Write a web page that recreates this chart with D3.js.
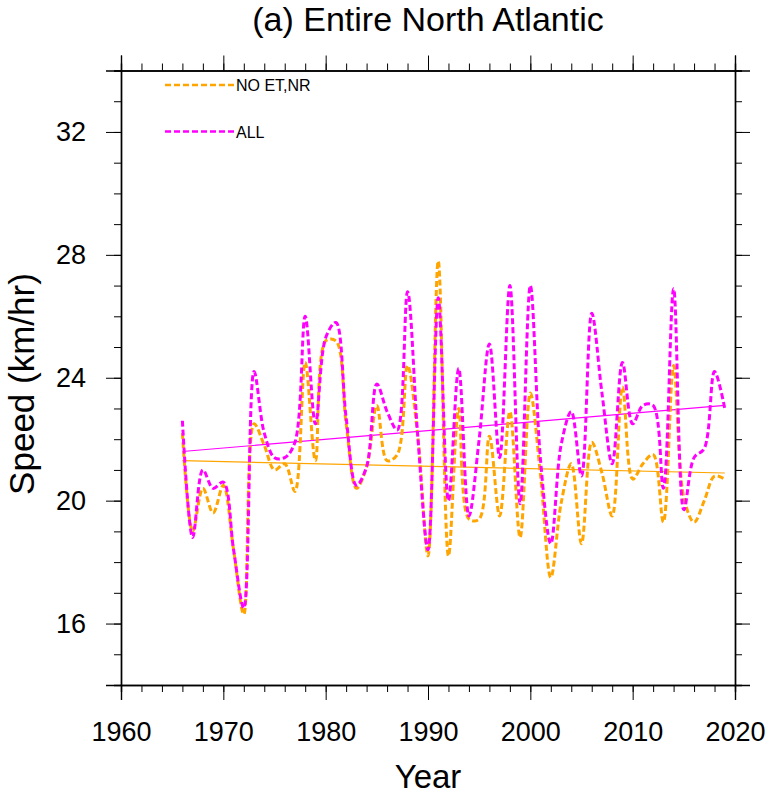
<!DOCTYPE html>
<html>
<head>
<meta charset="utf-8">
<script src="https://cdn.jsdelivr.net/npm/d3@7"></script>
<style>
  body { margin: 0; background: #fff; }
  text { font-family: "Liberation Sans", Arial, Helvetica, sans-serif; fill: #000; }
</style>
</head>
<body>
<div id="chart"></div>
<script>
const years = [1966, 1967, 1968, 1969, 1970, 1971, 1972, 1973, 1974, 1975,
  1976, 1977, 1978, 1979, 1980, 1981, 1982, 1983, 1984, 1985,
  1986, 1987, 1988, 1989, 1990, 1991, 1992, 1993, 1994, 1995,
  1996, 1997, 1998, 1999, 2000, 2001, 2002, 2003, 2004, 2005,
  2006, 2007, 2008, 2009, 2010, 2011, 2012, 2013, 2014, 2015,
  2016, 2017, 2018, 2019]

// speed of storms excluding extratropical / non-recurving points
const noEtNr = [22.2, 19.0, 20.4, 19.6, 20.5, 18.4, 16.3, 22.5, 21.8, 21.0,
  21.2, 20.3, 24.5, 21.3, 25.2, 25.2, 22.5, 20.4, 21.1, 23.1,
  21.3, 21.5, 24.4, 22.1, 18.2, 27.8, 18.2, 23.0, 19.4, 19.4,
  22.1, 19.5, 22.9, 18.8, 23.5, 20.8, 17.5, 19.9, 21.2, 18.6,
  21.9, 20.9, 19.5, 23.7, 20.7, 21.2, 21.5, 19.3, 24.4, 20.1,
  19.3, 20.0, 20.8, 20.7]

const all = [22.6, 18.8, 21.0, 20.4, 20.6, 18.4, 16.5, 24.2, 22.2, 21.4,
  21.4, 21.9, 26.0, 22.5, 25.3, 25.8, 22.7, 20.5, 21.1, 23.8,
  22.9, 22.3, 26.8, 22.1, 18.4, 26.6, 20.0, 24.3, 19.5, 22.0,
  25.1, 21.4, 27.0, 19.9, 27.0, 21.3, 18.6, 21.8, 22.9, 20.8,
  26.1, 23.5, 21.2, 24.5, 22.5, 23.1, 23.1, 20.4, 26.9, 19.7,
  21.4, 21.7, 24.2, 23.0]

// linear trend end values (1966, 2019)
const trendYears = [1966, 2019]
const trendNoEtNr = [21.3, 20.9]
const trendAll = [21.6, 23.1]

const xTicks = [1960, 1970, 1980, 1990, 2000, 2010, 2020]
const yTicks = [16, 20, 24, 28, 32]

const width = 766, height = 794
const margin = { top: 70.5, right: 31, bottom: 109, left: 121 }

const svg = d3.select("#chart").append("svg")
  .attr("width", width)
  .attr("height", height)

const x = d3.scaleLinear().domain([1960, 2020]).range([margin.left, width - margin.right])
const y = d3.scaleLinear().domain([14, 34]).range([height - margin.bottom, margin.top])

const series = [
  { name: "NO ET,NR", values: noEtNr, trend: trendNoEtNr, color: "#ffa500" },
  { name: "ALL", values: all, trend: trendAll, color: "#ff00ff" }
]

const line = d3.line()
  .x(d => x(d[0]))
  .y(d => y(d[1]))
  .curve(d3.curveCatmullRom.alpha(0.5))

const straight = d3.line().x(d => x(d[0])).y(d => y(d[1]))

// trend lines
series.forEach(s => {
  svg.append("path")
    .attr("d", straight(trendYears.map((t, i) => [t, s.trend[i]])))
    .attr("fill", "none")
    .attr("stroke", s.color)
    .attr("stroke-width", 1.2)
})

// data lines
series.forEach(s => {
  svg.append("path")
    .attr("d", line(years.map((t, i) => [t, s.values[i]])))
    .attr("fill", "none")
    .attr("stroke", s.color)
    .attr("stroke-width", 3)
    .attr("stroke-dasharray", "6,3")
})

// axes, ticks outward on all four sides
const xMinor = d3.range(1960, 2021, 2)
const yMinor = d3.range(14, 35, 1)

const gx = svg.append("g").attr("transform", `translate(0,${y(14)})`)
  .call(d3.axisBottom(x).tickValues(xTicks).tickFormat(d3.format("d")).tickSize(15).tickPadding(22))
const gxMin = svg.append("g").attr("transform", `translate(0,${y(14)})`)
  .call(d3.axisBottom(x).tickValues(xMinor).tickFormat("").tickSize(7))
const gxTop = svg.append("g").attr("transform", `translate(0,${y(34)})`)
  .call(d3.axisTop(x).tickValues(xTicks).tickFormat("").tickSize(15))
const gxTopMin = svg.append("g").attr("transform", `translate(0,${y(34)})`)
  .call(d3.axisTop(x).tickValues(xMinor).tickFormat("").tickSize(7))

const gy = svg.append("g").attr("transform", `translate(${x(1960)},0)`)
  .call(d3.axisLeft(y).tickValues(yTicks).tickSize(15).tickPadding(20))
const gyMin = svg.append("g").attr("transform", `translate(${x(1960)},0)`)
  .call(d3.axisLeft(y).tickValues(yMinor).tickFormat("").tickSize(7))
const gyR = svg.append("g").attr("transform", `translate(${x(2020)},0)`)
  .call(d3.axisRight(y).tickValues(yTicks).tickFormat("").tickSize(15))
const gyRMin = svg.append("g").attr("transform", `translate(${x(2020)},0)`)
  .call(d3.axisRight(y).tickValues(yMinor).tickFormat("").tickSize(7))

;[gx, gxMin, gxTop, gxTopMin, gy, gyMin, gyR, gyRMin].forEach(g => {
  g.selectAll(".domain").attr("stroke", "#000").attr("stroke-width", 1.4)
  g.selectAll(".tick line").attr("stroke", "#000").attr("stroke-width", 1)
  g.selectAll(".tick text").attr("font-size", 27).attr("font-family", "Liberation Sans, Arial, sans-serif")
})

// legend
const legendX = [165, 235]
series.forEach((s, i) => {
  const ly = 85 + i * 46.5
  svg.append("line")
    .attr("x1", legendX[0]).attr("x2", legendX[1])
    .attr("y1", ly).attr("y2", ly)
    .attr("stroke", s.color)
    .attr("stroke-width", 2.5)
    .attr("stroke-dasharray", "6,3")
  svg.append("text")
    .attr("x", legendX[1] + 1)
    .attr("y", ly + 6)
    .attr("font-size", 16)
    .text(s.name)
})

// titles
svg.append("text")
  .attr("x", (x(1960) + x(2020)) / 2)
  .attr("y", 31)
  .attr("text-anchor", "middle")
  .attr("font-size", 34)
  .text("(a) Entire North Atlantic")

svg.append("text")
  .attr("x", (x(1960) + x(2020)) / 2)
  .attr("y", 788)
  .attr("text-anchor", "middle")
  .attr("font-size", 33)
  .text("Year")

svg.append("text")
  .attr("transform", `translate(34,384) rotate(-90)`)
  .attr("text-anchor", "middle")
  .attr("font-size", 35)
  .text("Speed (km/hr)")
</script>
</body>
</html>
